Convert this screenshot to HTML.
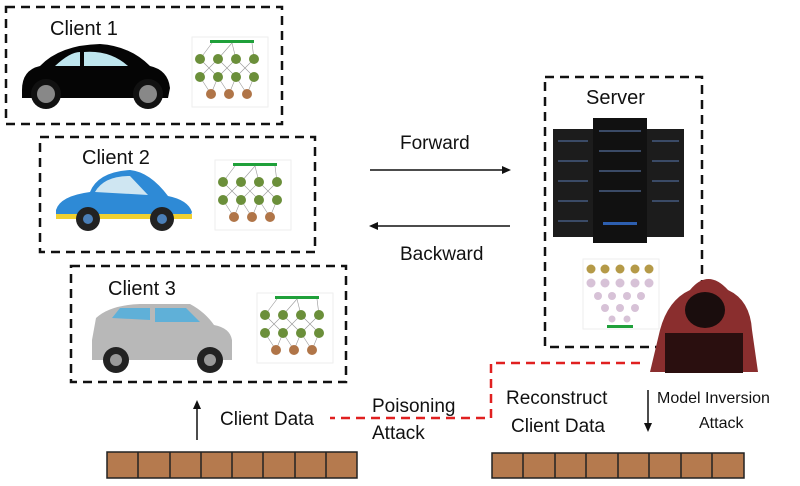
<!DOCTYPE html>
<html><head><style>
body{margin:0;background:#fff;}
svg{display:block;font-family:"Liberation Sans",sans-serif;}
</style></head><body>
<svg width="800" height="486" viewBox="0 0 800 486" xmlns="http://www.w3.org/2000/svg">
<defs>
<g id="nn">
<rect x="0" y="0" width="76" height="70" fill="#fff" stroke="#eee"/>
<rect x="18" y="3" width="44" height="3" fill="#1fa03a"/>
<g stroke="#999" stroke-width="0.6">
<line x1="8" y1="22" x2="26" y2="40"/><line x1="26" y1="22" x2="8" y2="40"/><line x1="44" y1="22" x2="62" y2="40"/><line x1="62" y1="22" x2="44" y2="40"/><line x1="26" y1="22" x2="44" y2="40"/><line x1="44" y1="22" x2="26" y2="40"/>
<line x1="8" y1="40" x2="19" y2="57"/><line x1="26" y1="40" x2="37" y2="57"/><line x1="44" y1="40" x2="55" y2="57"/><line x1="62" y1="40" x2="55" y2="57"/><line x1="26" y1="40" x2="19" y2="57"/><line x1="44" y1="40" x2="37" y2="57"/>
<line x1="20" y1="6" x2="8" y2="22"/><line x1="40" y1="6" x2="26" y2="22"/><line x1="40" y1="6" x2="44" y2="22"/><line x1="60" y1="6" x2="62" y2="22"/>
</g>
<g fill="#6b8f3a"><circle cx="8" cy="22" r="5"/><circle cx="26" cy="22" r="5"/><circle cx="44" cy="22" r="5"/><circle cx="62" cy="22" r="5"/><circle cx="8" cy="40" r="5"/><circle cx="26" cy="40" r="5"/><circle cx="44" cy="40" r="5"/><circle cx="62" cy="40" r="5"/></g>
<g fill="#b07548"><circle cx="19" cy="57" r="5"/><circle cx="37" cy="57" r="5"/><circle cx="55" cy="57" r="5"/></g>
</g>
</defs>
<g fill="none" stroke="#111" stroke-width="2.5" stroke-dasharray="9,6">
<rect x="6" y="7" width="276" height="117"/>
<rect x="40" y="137" width="275" height="115"/>
<rect x="71" y="266" width="275" height="116"/>
<rect x="545" y="77" width="157" height="270"/>
</g>
<g fill="none" stroke="#e02020" stroke-width="2.5" stroke-dasharray="9,6">
<polyline points="640,363 491,363 491,418 330,418"/>
</g>
<g font-size="20" fill="#111">
<text x="50" y="35">Client 1</text>
<text x="82" y="164">Client 2</text>
<text x="108" y="295">Client 3</text>
<text x="586" y="104">Server</text>
<text x="400" y="149" font-size="19">Forward</text>
<text x="400" y="260" font-size="19">Backward</text>
<text x="220" y="425" font-size="19">Client Data</text>
<text x="372" y="412" font-size="19">Poisoning</text>
<text x="372" y="439" font-size="19">Attack</text>
<text x="506" y="404" font-size="19">Reconstruct</text>
<text x="511" y="432" font-size="19">Client Data</text>
<text x="657" y="403" font-size="16">Model Inversion</text>
<text x="699" y="428" font-size="16">Attack</text>
</g>
<g stroke="#111" stroke-width="1.5" fill="#111">
<line x1="370" y1="170" x2="504" y2="170"/><polygon points="511,170 502,166 502,174" stroke="none"/>
<line x1="376" y1="226" x2="510" y2="226"/><polygon points="369,226 378,222 378,230" stroke="none"/>
<line x1="197" y1="440" x2="197" y2="407"/><polygon points="197,400 193,409 201,409" stroke="none"/>
<line x1="648" y1="390" x2="648" y2="425"/><polygon points="648,432 644,423 652,423" stroke="none"/>
</g>
<g fill="#b57a4e" stroke="#222" stroke-width="1.5">
<rect x="107" y="452" width="250" height="26"/>
<rect x="492" y="453" width="252" height="25"/>
</g>
<g stroke="#222" stroke-width="1.5">
<line x1="138" y1="452" x2="138" y2="478"/><line x1="170" y1="452" x2="170" y2="478"/><line x1="201" y1="452" x2="201" y2="478"/><line x1="232" y1="452" x2="232" y2="478"/><line x1="263" y1="452" x2="263" y2="478"/><line x1="295" y1="452" x2="295" y2="478"/><line x1="326" y1="452" x2="326" y2="478"/>
<line x1="523" y1="453" x2="523" y2="478"/><line x1="555" y1="453" x2="555" y2="478"/><line x1="586" y1="453" x2="586" y2="478"/><line x1="618" y1="453" x2="618" y2="478"/><line x1="649" y1="453" x2="649" y2="478"/><line x1="681" y1="453" x2="681" y2="478"/><line x1="712" y1="453" x2="712" y2="478"/>
</g>
<use href="#nn" x="192" y="37"/>
<use href="#nn" x="215" y="160"/>
<use href="#nn" x="257" y="293"/>
<g transform="translate(583,259)">
<rect width="76" height="70" fill="#fff" stroke="#eee"/>
<g fill="#b59a48"><circle cx="8" cy="10" r="4.5"/><circle cx="22" cy="10" r="4.5"/><circle cx="37" cy="10" r="4.5"/><circle cx="52" cy="10" r="4.5"/><circle cx="66" cy="10" r="4.5"/></g>
<g fill="#d7c2d7"><circle cx="8" cy="24" r="4.5"/><circle cx="22" cy="24" r="4.5"/><circle cx="37" cy="24" r="4.5"/><circle cx="52" cy="24" r="4.5"/><circle cx="66" cy="24" r="4.5"/><circle cx="15" cy="37" r="4"/><circle cx="29" cy="37" r="4"/><circle cx="44" cy="37" r="4"/><circle cx="58" cy="37" r="4"/><circle cx="22" cy="49" r="4"/><circle cx="37" cy="49" r="4"/><circle cx="52" cy="49" r="4"/><circle cx="29" cy="60" r="3.5"/><circle cx="44" cy="60" r="3.5"/></g>
<rect x="24" y="66" width="26" height="3" fill="#1fa03a"/>
</g>
<g>
<rect x="553" y="129" width="40" height="108" fill="#1c1c1c"/>
<rect x="647" y="129" width="37" height="108" fill="#1c1c1c"/>
<rect x="593" y="118" width="54" height="125" fill="#111"/>
<g fill="#3a4a66"><rect x="558" y="140" width="30" height="2"/><rect x="558" y="160" width="30" height="2"/><rect x="558" y="180" width="30" height="2"/><rect x="558" y="200" width="30" height="2"/><rect x="558" y="220" width="30" height="2"/>
<rect x="599" y="130" width="42" height="2"/><rect x="599" y="150" width="42" height="2"/><rect x="599" y="170" width="42" height="2"/><rect x="599" y="190" width="42" height="2"/><rect x="603" y="222" width="34" height="3" fill="#2d5fb0"/>
<rect x="652" y="140" width="27" height="2"/><rect x="652" y="160" width="27" height="2"/><rect x="652" y="180" width="27" height="2"/><rect x="652" y="200" width="27" height="2"/></g>
</g>
<g>
<path d="M650,372 L660,330 Q668,300 690,290 Q708,268 728,290 Q750,300 752,330 L758,372 Z" fill="#8a2e2e"/>
<ellipse cx="705" cy="310" rx="20" ry="18" fill="#1a0d0d"/>
<rect x="665" y="333" width="78" height="40" fill="#2a0f0f"/>
</g>
<g>
<path d="M22,90 Q22,70 40,66 Q60,45 100,44 Q130,46 150,66 Q168,70 170,88 L168,98 L22,98 Z" fill="#050505"/>
<path d="M55,66 Q70,52 80,52 L80,66 Z M84,52 Q110,50 128,66 L84,66 Z" fill="#bfe6ee"/>
<circle cx="46" cy="94" r="15" fill="#111"/><circle cx="46" cy="94" r="9" fill="#888"/>
<circle cx="148" cy="94" r="15" fill="#111"/><circle cx="148" cy="94" r="9" fill="#888"/>
</g>
<g>
<path d="M56,210 Q60,196 90,192 Q98,172 130,170 Q150,172 168,196 Q188,200 192,212 L190,218 L56,218 Z" fill="#2e8ad6"/>
<path d="M95,192 Q104,176 130,176 L148,195 Z" fill="#cfe6f2"/>
<rect x="56" y="214" width="136" height="5" fill="#f0d030"/>
<circle cx="88" cy="219" r="12" fill="#222"/><circle cx="88" cy="219" r="5" fill="#4a7fb8"/>
<circle cx="162" cy="219" r="12" fill="#222"/><circle cx="162" cy="219" r="5" fill="#4a7fb8"/>
</g>
<g>
<path d="M92,340 L96,318 Q110,305 140,304 L190,304 Q205,312 214,325 Q230,328 232,340 L232,360 L92,360 Z" fill="#b8b8b8"/>
<path d="M112,318 L120,308 L150,308 L150,320 Z M155,308 L186,308 L200,322 L155,322 Z" fill="#5fb0d8"/>
<circle cx="116" cy="360" r="13" fill="#222"/><circle cx="116" cy="360" r="6" fill="#999"/>
<circle cx="210" cy="360" r="13" fill="#222"/><circle cx="210" cy="360" r="6" fill="#999"/>
</g>
</svg>
</body></html>
